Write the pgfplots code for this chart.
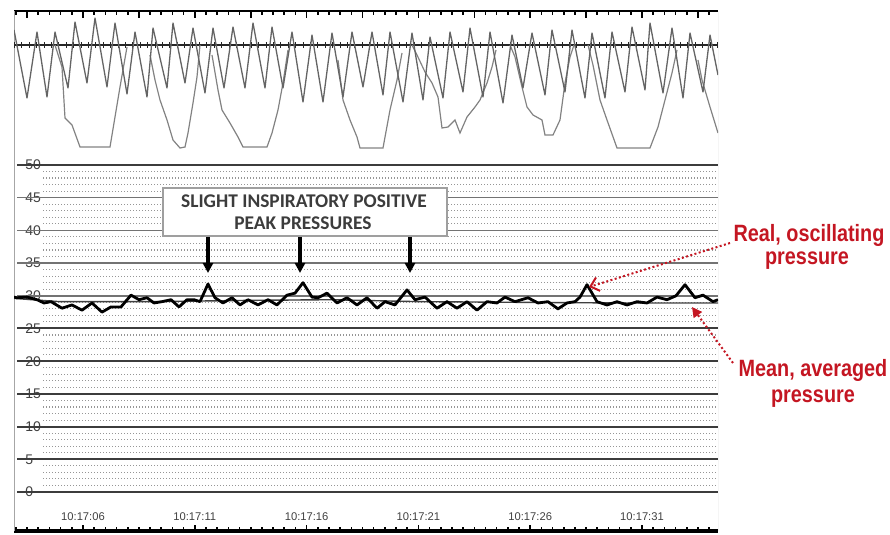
\documentclass[border=0pt]{standalone}
\usepackage{pgfplots}
\pgfplotsset{compat=1.18}
\usepackage{fontspec}
\setmainfont{Liberation Sans}
\newfontfamily\boxfont{Carlito}
\usetikzlibrary{arrows.meta}
\definecolor{annred}{RGB}{196,22,34}
\definecolor{boxtxt}{RGB}{60,60,60}
\definecolor{majdark}{RGB}{60,60,60}
\definecolor{majlight}{RGB}{115,115,115}
\definecolor{minorg}{RGB}{150,150,150}
\definecolor{wave}{RGB}{100,100,100}
\definecolor{slow}{RGB}{130,130,130}

% top panel: fast oscillating trace (x in px, y = -px)
\pgfplotstableread{
x y
14 -30
27 -98
37 -32
47 -97
55 -32
68 -88
75 -22
87 -83
95 -18
107 -87
115 -23
127 -94
135 -32
147 -97
153 -28
167 -88
173 -23
185 -83
193 -28
205 -93
213 -28
224 -88
233 -27
245 -88
253 -23
265 -88
272 -27
283 -88
292 -32
303 -102
312 -35
323 -102
332 -33
343 -97
352 -32
363 -87
372 -32
383 -95
390 -32
403 -102
412 -33
423 -100
430 -37
443 -98
450 -32
463 -92
470 -28
483 -97
490 -32
503 -103
512 -35
523 -88
532 -33
545 -95
552 -30
565 -92
572 -30
585 -98
592 -33
605 -98
612 -32
625 -92
632 -27
645 -90
650 -23
663 -93
672 -28
683 -98
690 -33
703 -92
710 -35
718 -75
}\fastwave

% bottom panel: real oscillating pressure
\pgfplotstableread{
x p
14 29.8
17 29.7
27 29.8
37 29.4
44 28.9
51 29.1
62 28.1
72 28.6
82 27.8
92 28.9
102 27.5
111 28.3
121 28.3
131 30.1
139 29.4
147 29.7
154 28.9
162 29.1
171 29.4
179 28.3
187 29.4
194 29.4
200 29.1
208 31.8
215 29.7
223 28.9
232 29.7
240 28.6
248 29.4
258 28.6
268 29.4
277 28.6
287 30.1
295 30.4
303 32.0
312 29.8
318 29.7
327 30.4
337 28.9
347 29.7
357 28.6
367 29.7
377 28.1
385 29.1
395 28.6
407 30.9
415 29.4
425 29.8
437 28.1
447 29.1
457 28.1
467 29.1
477 27.8
487 29.1
497 28.9
505 29.8
515 29.1
528 29.7
538 28.9
548 29.1
558 28.0
567 28.9
575 29.1
580 29.8
587 31.7
597 29.1
607 28.6
617 29.1
627 28.6
637 29.1
647 28.9
657 29.8
667 29.4
676 30.0
685 31.7
695 29.7
703 30.1
713 29.1
718 29.4
}\realp

\pgfplotstableread{
x p
14 29.6
60 29.1
150 29.1
250 29.3
330 29.4
420 29.1
520 29.0
620 28.9
718 28.9
}\meanp

\begin{document}
\begin{tikzpicture}[x=0.5pt,y=0.5pt]
\useasboundingbox (0,0) rectangle (890,535);

% ---------------- top panel ----------------
\begin{axis}[at={(7pt,192.5pt)}, anchor=south west, scale only axis,
  width=352pt, height=69.5pt,
  xmin=14, xmax=718, ymin=-150, ymax=-11,
  axis x line*=top, axis y line*=left,
  x axis line style={black, line width=1.4pt},
  y axis line style={gray!70, line width=0.5pt},
  ytick=\empty,
  xtick={27.1,83,...,700}, minor xtick={15.92,27.1,...,718},
  xticklabel={\relax},
  tick align=inside,
  major tick length=3.5pt, minor tick length=2pt,
  tick style={black, line width=0.8pt}]
\addplot[gray!60, line width=0.5pt] coordinates {(718,-150) (718,-11)};
\addplot[black!85, line width=0.9pt] coordinates {(14,-45) (718,-45)};
\addplot[black!85, line width=2.6pt, dash pattern=on 0.5pt off 3.2pt] coordinates {(14,-45) (718,-45)};
\addplot[slow, line width=0.6pt] coordinates {(55,-45)(62,-67)(65,-118)(72,-125)(80,-147)(110,-147)(115,-117)(120,-87)(127,-47)};
\addplot[slow, line width=0.6pt] coordinates {(150,-55)(155,-80)(160,-100)(167,-120)(173,-140)(180,-148)(185,-147)(188,-133)(193,-103)(197,-77)(200,-45)};
\addplot[slow, line width=0.6pt] coordinates {(212,-55)(218,-90)(222,-110)(230,-123)(238,-137)(243,-147)(267,-147)(272,-133)(278,-110)(283,-83)(288,-50)};
\addplot[slow, line width=0.6pt] coordinates {(338,-60)(343,-100)(350,-120)(357,-137)(360,-148)(383,-148)(390,-110)(397,-80)(402,-53)};
\addplot[slow, line width=0.6pt] coordinates {(412,-45)(417,-55)(425,-72)(432,-83)(438,-97)(442,-128)(448,-127)(455,-120)(460,-133)(467,-117)(475,-107)(480,-100)(487,-83)(492,-67)(496,-50)};
\addplot[slow, line width=0.6pt] coordinates {(510,-45)(515,-57)(522,-87)(527,-107)(533,-115)(542,-120)(545,-135)(553,-135)(560,-120)(565,-83)(570,-57)(574,-45)};
\addplot[slow, line width=0.6pt] coordinates {(588,-45)(593,-65)(600,-100)(607,-120)(617,-148)(650,-148)(658,-127)(665,-100)(672,-73)(677,-50)};
\addplot[slow, line width=0.6pt] coordinates {(698,-60)(702,-80)(710,-107)(718,-133)};
\addplot[wave, line width=0.65pt, line join=round] table[x=x, y=y] {\fastwave};
\end{axis}

% ---------------- bottom panel ----------------
\begin{axis}[at={(7pt,2pt)}, anchor=south west, scale only axis,
  width=352pt, height=190.5pt,
  xmin=14, xmax=718, ymin=-5.96, ymax=52.29,
  axis x line*=bottom, axis y line*=left,
  x axis line style={black, line width=2pt},
  y axis line style={gray!70, line width=0.5pt},
  ytick={0,5,...,50},
  ytick style={draw=none},
  /pgf/number format/assume math mode=true,
  yticklabel style={anchor=west, xshift=4.5pt, inner xsep=1pt, inner ysep=0.5pt,
     fill=white, font=\fontsize{7}{8}\selectfont, text=black!75},
  xtick={83,194.8,306.6,418.4,530.2,642},
  xticklabels={10:17:06,10:17:11,10:17:16,10:17:21,10:17:26,10:17:31},
  xticklabel style={anchor=south, yshift=5pt, inner sep=0pt,
     font=\fontsize{5.6}{6}\selectfont, text=black!75},
  minor xtick={15.92,27.1,...,718},
  tick align=inside,
  major tick length=3pt, minor tick length=1.8pt,
  xtick style={black, line width=0.8pt}]
\pgfplotsinvokeforeach{1,2,3,4,6,7,8,9,11,12,13,14,16,17,18,19,21,22,23,24,26,27,28,29,31,32,33,34,36,37,38,39,41,42,43,44,46,47,48,49}{
  \addplot[minorg, line width=0.55pt, dash pattern=on 0.5pt off 1pt] coordinates {(43,#1) (718,#1)};
}
\pgfplotsinvokeforeach{0,5,10,15,20,25,50}{
  \addplot[majdark, line width=1pt] coordinates {(17,#1) (718,#1)};
}
\pgfplotsinvokeforeach{30,35,40,45}{
  \addplot[majlight, line width=0.8pt] coordinates {(17,#1) (718,#1)};
}
\addplot[gray!60, line width=0.5pt] coordinates {(718,-5.96) (718,52.29)};
\addplot[black!75, line width=0.7pt] table[x=x, y=p] {\meanp};
\addplot[black, line width=1.4pt, line join=round] table[x=x, y=p] {\realp};
\end{axis}

% ---------------- annotations ----------------
\draw[gray!75, line width=0.6pt, fill=white] (163,347) rectangle (447,299);
\node[anchor=base, inner sep=0pt, font=\boxfont\bfseries\fontsize{9.7}{10}\selectfont, text=boxtxt] at (304,327) {SLIGHT INSPIRATORY POSITIVE};
\node[anchor=base, inner sep=0pt, font=\boxfont\bfseries\fontsize{9.7}{10}\selectfont, text=boxtxt] at (303,305) {PEAK PRESSURES};
\foreach \xa in {208,300,410}{
  \draw[line width=1.6pt, -{Triangle[length=5pt,width=5pt]}] (\xa,298) -- (\xa,262);
}
\draw[annred, line width=1pt, dash pattern=on 1pt off 1.2pt, -{Straight Barb[length=4pt,width=7pt]}] (730,292) -- (589,248);
\draw[annred, line width=1pt, dash pattern=on 1pt off 1.2pt, -{Triangle[length=5pt,width=5pt]}] (733,172) -- (692,228);
\node[anchor=base, inner sep=0pt, xscale=0.84, font=\bfseries\fontsize{11.8}{12}\selectfont, text=annred] at (809,293) {Real, oscillating};
\node[anchor=base, inner sep=0pt, xscale=0.84, font=\bfseries\fontsize{11.8}{12}\selectfont, text=annred] at (807,270) {pressure};
\node[anchor=base, inner sep=0pt, xscale=0.84, font=\bfseries\fontsize{11.8}{12}\selectfont, text=annred] at (813,158) {Mean, averaged};
\node[anchor=base, inner sep=0pt, xscale=0.84, font=\bfseries\fontsize{11.8}{12}\selectfont, text=annred] at (813,132) {pressure};
\end{tikzpicture}
\end{document}
